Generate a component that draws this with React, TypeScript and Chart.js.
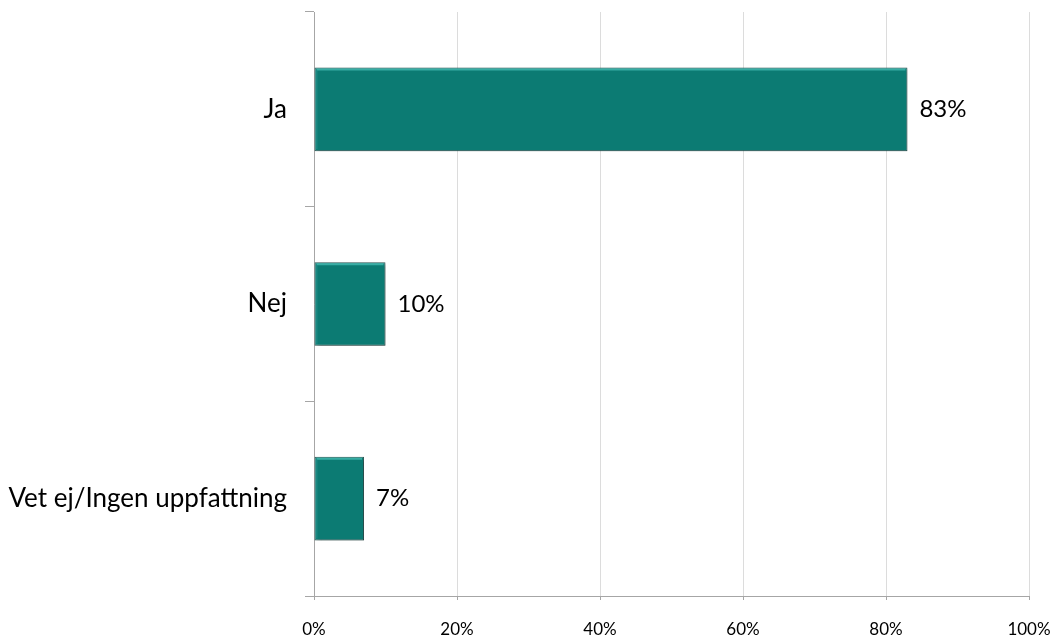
import React, { useEffect, useRef } from "react";
import { Chart, registerables } from "chart.js";

Chart.register(...registerables);

const categories = ["Ja", "Nej", "Vet ej/Ingen uppfattning"];
const values = [83, 10, 7];
const xTicks = [0, 20, 40, 60, 80, 100];

const FONT = "Lato, 'Open Sans', sans-serif";

const barShadow = {
  id: "barShadow",
  beforeDatasetsDraw(chart: any) {
    const ctx = chart.ctx;
    ctx.save();
    ctx.shadowColor = "rgba(0,0,0,0.28)";
    ctx.shadowBlur = 3;
    ctx.shadowOffsetX = 2;
    ctx.shadowOffsetY = 2;
  },
  afterDatasetsDraw(chart: any) {
    chart.ctx.restore();
  },
};

const barHighlight = {
  id: "barHighlight",
  afterDatasetsDraw(chart: any) {
    const ctx = chart.ctx;
    const meta = chart.getDatasetMeta(0);
    ctx.save();
    meta.data.forEach((bar: any) => {
      const top = bar.y - bar.height / 2;
      const bottom = bar.y + bar.height / 2;
      const left = Math.min(bar.base, bar.x);
      const right = Math.max(bar.base, bar.x);
      ctx.strokeStyle = "rgba(70,190,180,0.75)";
      ctx.lineWidth = 2;
      ctx.beginPath();
      ctx.moveTo(left + 2, top + 2);
      ctx.lineTo(right - 2, top + 2);
      ctx.stroke();
      ctx.strokeStyle = "rgba(40,150,145,0.5)";
      ctx.lineWidth = 2;
      ctx.beginPath();
      ctx.moveTo(left + 2, top + 3);
      ctx.lineTo(left + 2, bottom - 2);
      ctx.stroke();
    });
    ctx.restore();
  },
};

const dataLabels = {
  id: "dataLabels",
  afterDatasetsDraw(chart: any) {
    const ctx = chart.ctx;
    const meta = chart.getDatasetMeta(0);
    ctx.save();
    ctx.font = `24px ${FONT}`;
    ctx.fillStyle = "#000";
    ctx.textAlign = "left";
    ctx.textBaseline = "middle";
    meta.data.forEach((bar: any, i: number) => {
      ctx.fillText(`${values[i]}%`, bar.x + 12, bar.y);
    });
    ctx.restore();
  },
};

export default function App() {
  const ref = useRef<HTMLCanvasElement>(null);
  useEffect(() => {
    const chart = new Chart(ref.current!, {
      type: "bar",
      data: {
        labels: categories,
        datasets: [
          {
            data: values,
            backgroundColor: "#0c7b73",
            borderColor: "#2d5755",
            borderWidth: 1,
            borderSkipped: false,
            barPercentage: 0.43,
            categoryPercentage: 1,
          },
        ],
      },
      options: {
        indexAxis: "y",
        responsive: false,
        animation: false,
        layout: { padding: { top: 12, right: 24, left: 0, bottom: 0 } },
        plugins: { legend: { display: false }, tooltip: { enabled: false } },
        scales: {
          x: {
            min: 0,
            max: 100,
            afterBuildTicks(scale: any) {
              scale.ticks = xTicks.map((v) => ({ value: v }));
            },
            afterFit(scale: any) {
              scale.height = 40;
              scale.paddingLeft = 0;
              scale.paddingRight = 0;
            },
            border: { color: "#a6a6a6", width: 1 },
            grid: {
              color: "#dcdcdc",
              tickColor: "#a6a6a6",
              tickLength: 4,
              lineWidth: 1,
            },
            ticks: {
              padding: 19,
              color: "#000",
              font: { family: FONT, size: 17 },
              callback: (v: any) => `${v}%`,
            },
          },
          y: {
            offset: true,
            afterFit(scale: any) {
              scale.width = 314;
              scale.paddingTop = 0;
              scale.paddingBottom = 0;
            },
            border: { color: "#a6a6a6", width: 1 },
            grid: {
              offset: true,
              drawOnChartArea: false,
              tickColor: "#a6a6a6",
              tickLength: 9,
            },
            ticks: {
              padding: 18,
              color: "#000",
              font: { family: FONT, size: 26 },
            },
          },
        },
      },
      plugins: [barShadow, barHighlight, dataLabels],
    });
    return () => chart.destroy();
  }, []);
  return (
    <div style={{ position: "fixed", left: 0, top: 0, width: 1053, height: 636, background: "#fff" }}>
      <canvas ref={ref} width={1053} height={636} style={{ display: "block" }} />
    </div>
  );
}
